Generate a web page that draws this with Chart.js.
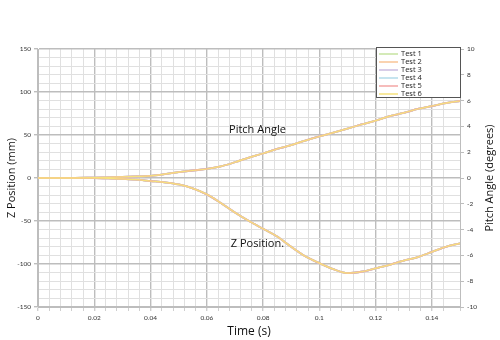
<!DOCTYPE html>
<html>
<head>
<meta charset="utf-8">
<script src="https://cdn.jsdelivr.net/npm/chart.js@4/dist/chart.umd.min.js"></script>
<style>
  html, body { margin: 0; padding: 0; background: #fff; }
  #wrap { width: 500px; height: 340px; }
</style>
</head>
<body>
<div id="wrap"><canvas id="motionChart" width="500" height="340"></canvas></div>
<script>
// time (s)
const times = [0, 0.01, 0.02, 0.025, 0.03, 0.035, 0.04, 0.045, 0.05, 0.055, 0.06, 0.065, 0.07, 0.075, 0.08,
               0.085, 0.09, 0.095, 0.1, 0.105, 0.11, 0.115, 0.12, 0.125, 0.13, 0.135, 0.14, 0.145, 0.15];
// Z position (mm), left axis
const zPosition = [0, 0, 0, -0.5, -1, -2, -3.5, -5, -7.5, -12, -19, -29, -40, -50, -59,
                   -68, -80, -91, -99, -106, -110.5, -109, -105, -101, -96, -92, -86, -80, -76];
// pitch angle (degrees), right axis
const pitchAngle = [0, 0, 0.03, 0.05, 0.08, 0.12, 0.17, 0.3, 0.45, 0.58, 0.7, 0.9, 1.22, 1.58, 1.9,
                    2.25, 2.55, 2.9, 3.22, 3.52, 3.83, 4.15, 4.45, 4.8, 5.05, 5.35, 5.58, 5.8, 5.97];

const testNames = ['Test 1', 'Test 2', 'Test 3', 'Test 4', 'Test 5', 'Test 6'];
const testColors = ['#c6e3a0', '#f9c596', '#cbbde0', '#b3dbea', '#f3a6a4', '#f6e27c'];

// curve labels, placed in data units (time, mm)
const curveLabels = [
    { text: 'Pitch Angle', t: 0.078, z: 56 },
    { text: 'Z Position.', t: 0.078, z: -77 }
];

const majorX = v => Math.round(v * 1000) % 20 === 0;
const majorY = v => Math.round(v) % 50 === 0;

// build datasets: each test has a Z curve and a pitch curve
const datasets = [];
testNames.forEach((name, i) => {
    const common = {
        borderColor: testColors[i],
        backgroundColor: testColors[i],
        borderWidth: i === 5 ? 1.2 : 1.8,
        pointRadius: 0,
        cubicInterpolationMode: 'monotone',
        fill: false,
        order: 5 - i
    };
    datasets.push(Object.assign({
        label: name,
        yAxisID: 'y',
        data: times.map((t, k) => ({ x: t, y: zPosition[k] }))
    }, common));
    datasets.push(Object.assign({
        label: name + ' pitch',
        yAxisID: 'y1',
        data: times.map((t, k) => ({ x: t, y: pitchAngle[k] }))
    }, common));
});

// legend box inside the plot, top right
const legendBox = {
    id: 'legendBox',
    afterDraw(chart) {
        const c = chart.ctx, a = chart.chartArea;
        const w = 85, h = 51;
        const x0 = a.right - w + 1, y0 = a.top - 2;
        c.save();
        c.fillStyle = '#fff';
        c.fillRect(x0, y0, w, h);
        c.strokeStyle = '#555';
        c.lineWidth = 1;
        c.strokeRect(x0 + 0.5, y0 + 0.5, w - 1, h - 1);
        c.font = '7.5px "Open Sans"';
        c.textBaseline = 'middle';
        c.fillStyle = '#222';
        testNames.forEach((name, i) => {
            const yy = y0 + 7 + i * 8;
            c.strokeStyle = testColors[i];
            c.lineWidth = 1.5;
            c.beginPath();
            c.moveTo(x0 + 3, yy);
            c.lineTo(x0 + 22, yy);
            c.stroke();
            c.fillText(name, x0 + 25, yy);
        });
        c.restore();
    }
};

// curve labels and the right axis title (reads bottom to top)
const curveText = {
    id: 'curveText',
    afterDatasetsDraw(chart) {
        const c = chart.ctx, a = chart.chartArea;
        c.save();
        c.font = '11px "Open Sans"';
        c.fillStyle = '#111';
        c.textAlign = 'center';
        c.textBaseline = 'middle';
        curveLabels.forEach(l => {
            c.fillText(l.text, chart.scales.x.getPixelForValue(l.t), chart.scales.y.getPixelForValue(l.z));
        });
        c.translate(490, (a.top + a.bottom) / 2);
        c.rotate(-Math.PI / 2);
        c.fillText('Pitch Angle (degrees)', 0, 0);
        c.restore();
    }
};

const ctx = document.getElementById('motionChart').getContext('2d');
new Chart(ctx, {
    type: 'line',
    data: { datasets: datasets },
    options: {
        responsive: false,
        animation: false,
        layout: { padding: { top: 49, left: 0, right: 0, bottom: 0 } },
        plugins: { legend: { display: false }, tooltip: { enabled: false } },
        scales: {
            x: {
                type: 'linear',
                min: 0,
                max: 0.15,
                afterFit: s => { s.height = 33; },
                ticks: {
                    stepSize: 0.004,
                    autoSkip: false,
                    maxRotation: 0,
                    padding: 3,
                    color: '#333',
                    font: { size: 6.5, family: 'Lato' },
                    callback: v => majorX(v) ? String(Math.round(v * 1000) / 1000) : ''
                },
                grid: {
                    color: c => majorX(c.tick.value) ? '#bdbdbd' : '#e0e0e0',
                    lineWidth: c => majorX(c.tick.value) ? 1.4 : 1,
                    tickLength: 4,
                    tickColor: '#cfcfcf'
                },
                border: { color: '#bdbdbd' },
                title: {
                    display: true,
                    text: 'Time (s)',
                    color: '#111',
                    font: { size: 12, family: 'Open Sans' },
                    padding: { top: 0, bottom: 1 }
                }
            },
            y: {
                position: 'left',
                min: -150,
                max: 150,
                afterFit: s => { s.width = 38; },
                ticks: {
                    stepSize: 10,
                    autoSkip: false,
                    padding: 3,
                    color: '#333',
                    font: { size: 6.5, family: 'Lato' },
                    callback: v => majorY(v) ? String(v) : ''
                },
                grid: {
                    color: c => majorY(c.tick.value) ? '#bdbdbd' : '#e0e0e0',
                    lineWidth: c => majorY(c.tick.value) ? 1.4 : 1,
                    tickLength: 4,
                    tickColor: c => majorY(c.tick.value) ? '#bdbdbd' : 'rgba(0,0,0,0)'
                },
                border: { color: '#bdbdbd' },
                title: {
                    display: true,
                    text: 'Z Position (mm)',
                    color: '#111',
                    font: { size: 11, family: 'Open Sans' },
                    padding: { top: 5, bottom: 0 }
                }
            },
            y1: {
                position: 'right',
                min: -10,
                max: 10,
                afterFit: s => { s.width = 40; },
                ticks: {
                    stepSize: 2,
                    padding: 3,
                    color: '#333',
                    font: { size: 6.5, family: 'Lato' }
                },
                grid: {
                    drawOnChartArea: false,
                    tickLength: 4,
                    tickColor: '#bdbdbd'
                },
                border: { color: '#bdbdbd' }
            }
        }
    },
    plugins: [curveText, legendBox]
});
</script>
</body>
</html>
